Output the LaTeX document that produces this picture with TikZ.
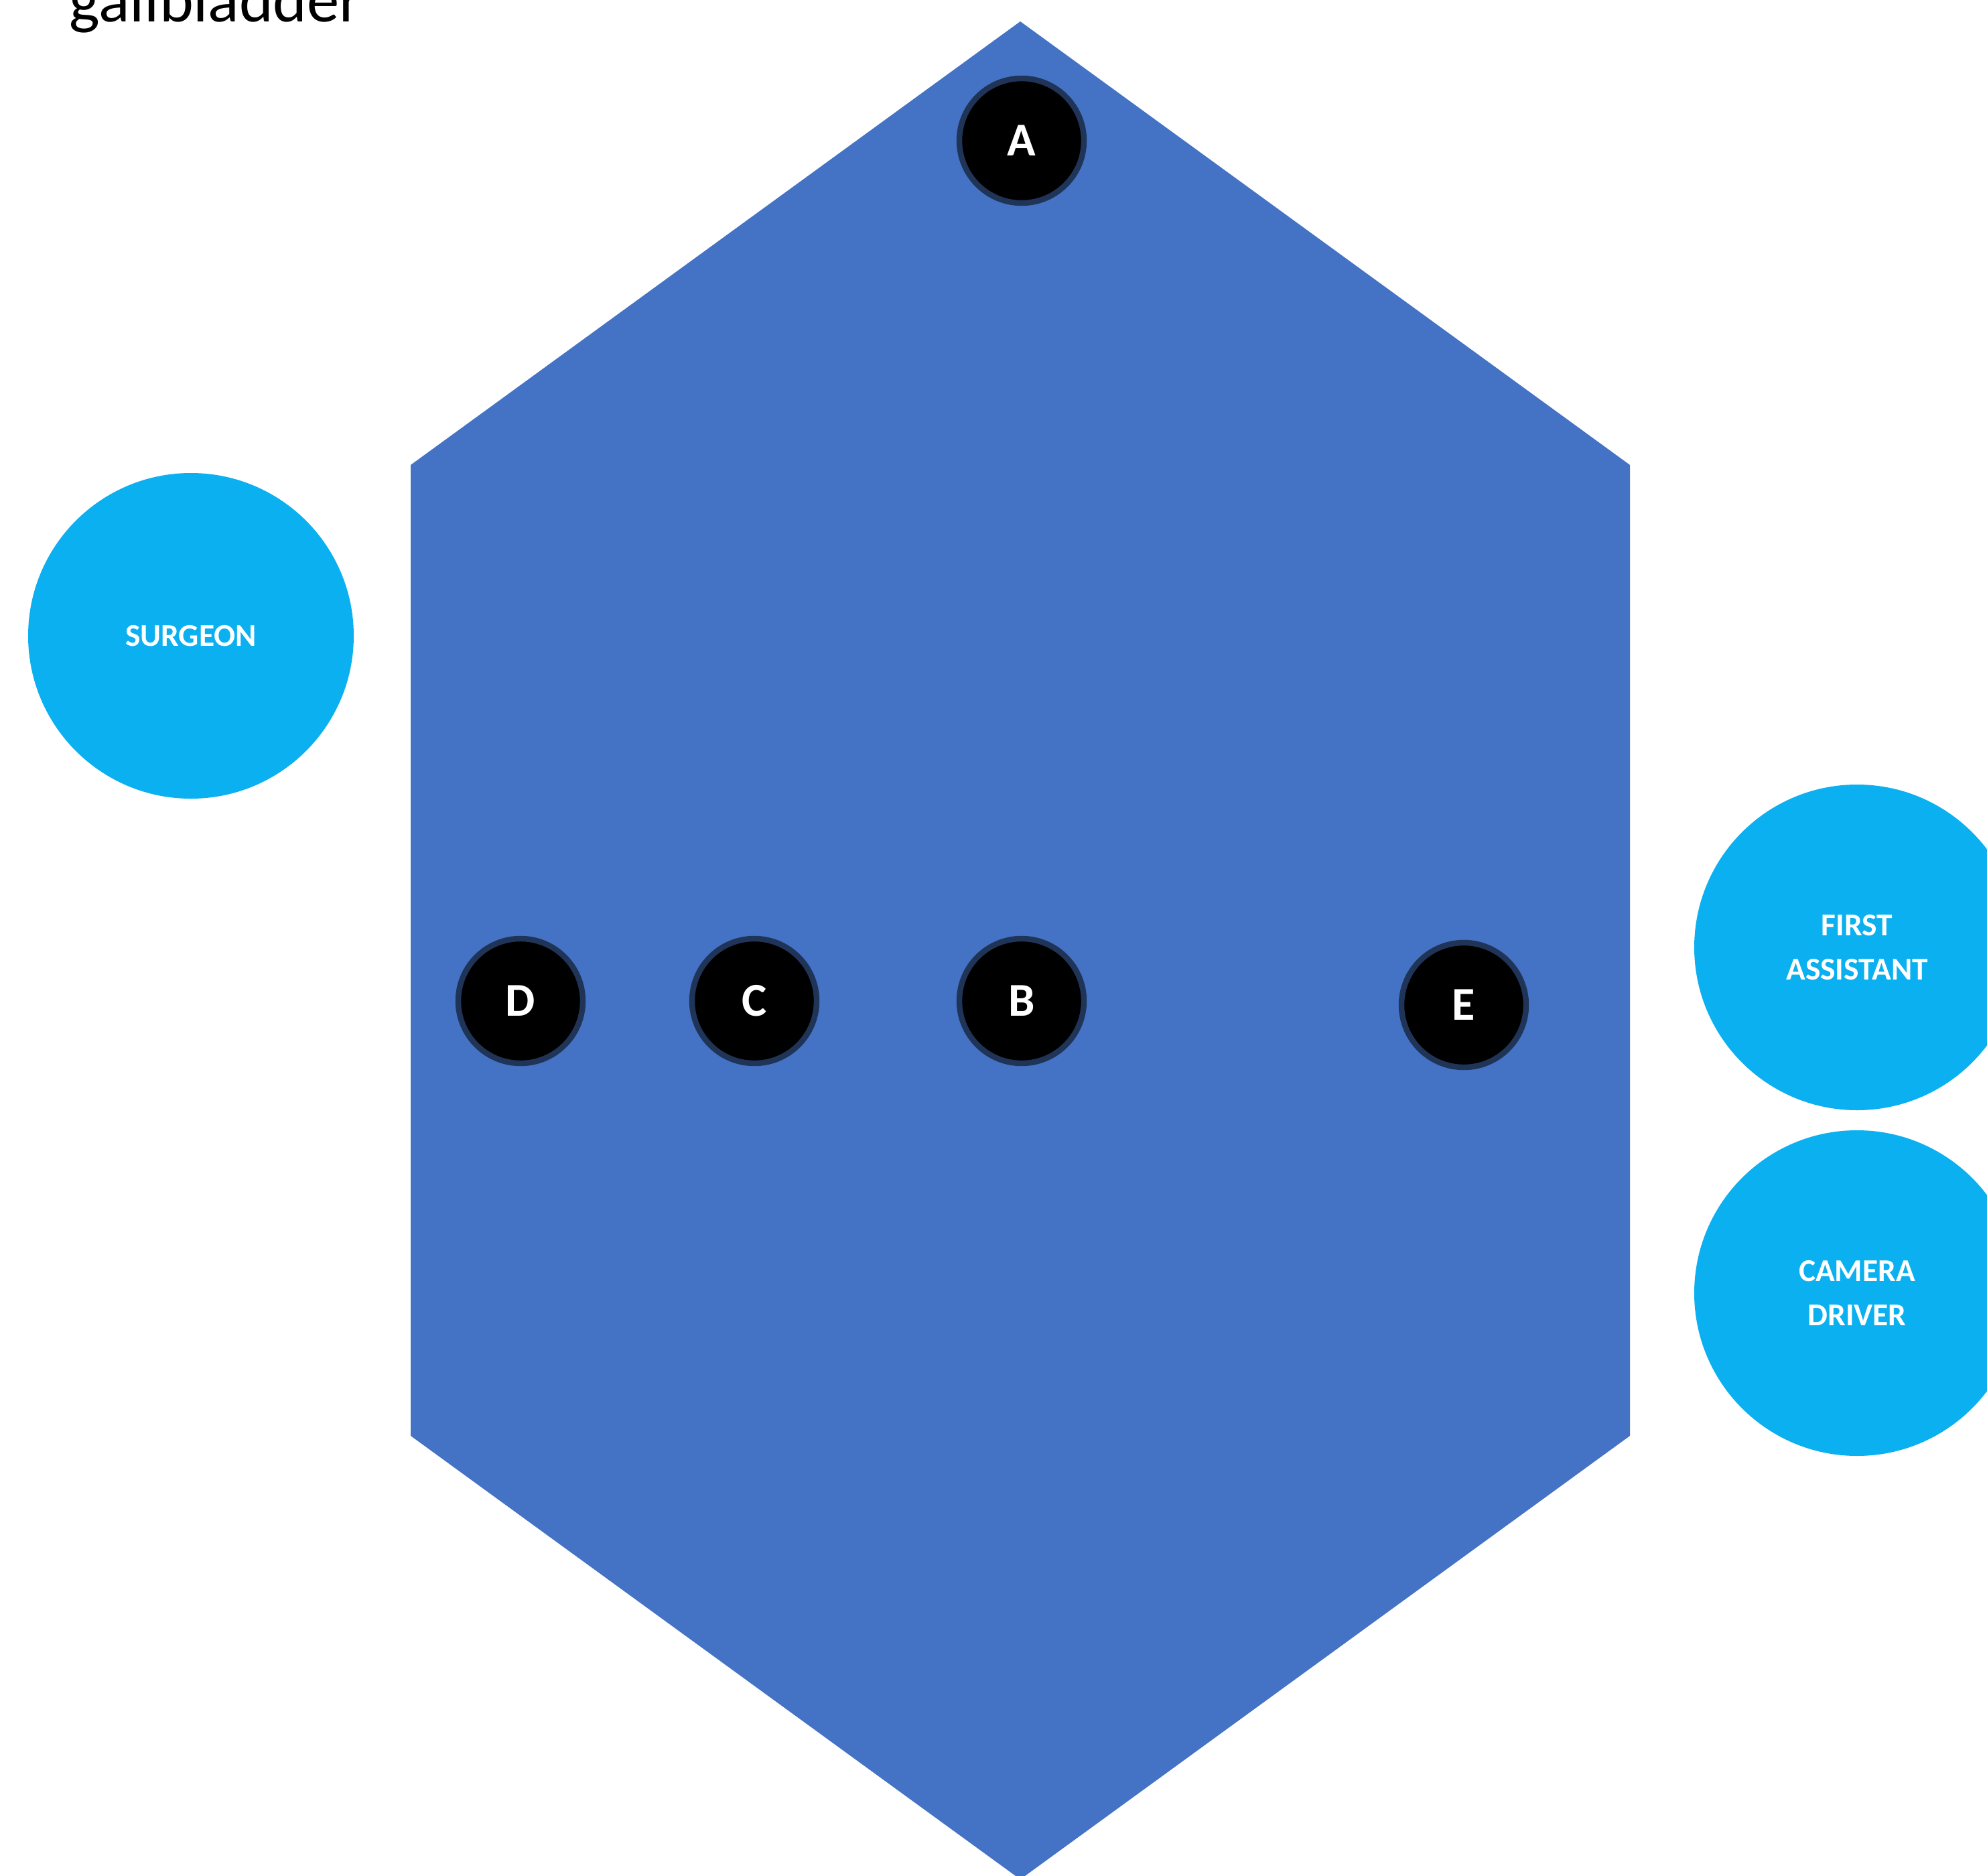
\documentclass[tikz,border=0pt]{standalone}
\usepackage{fontspec}
\setmainfont{Carlito}
\usepackage{xcolor}
\usepackage{tikz}

\definecolor{hexblue}{HTML}{4472C4}
\definecolor{teamcyan}{HTML}{0AB0F0}
\definecolor{portrim}{HTML}{1F3456}

\begin{document}
\begin{tikzpicture}[
    port/.style={draw=portrim, line width=2.4pt, fill=black, circle, minimum size=1.86cm, inner sep=0pt,
                 text=white, font=\fontsize{20}{24}\selectfont\bfseries},
    member/.style={fill=teamcyan, circle, minimum size=4.86cm, inner sep=0pt, align=center,
                   text=white, font=\fontsize{13.5}{19}\selectfont\bfseries}
  ]
        \useasboundingbox (0,0) rectangle (29.66,-28);
        \clip (0,0) rectangle (29.66,-28);

        % Titel (oben abgeschnitten)
        \node[anchor=base west, inner sep=0pt, font=\fontsize{27.5}{33}\selectfont] (title) at (1.03,-0.33) {gallbladder};

        % Patient / Abdomen
        \fill[hexblue] (15.23,-0.32) -- (24.33,-6.94) -- (24.33,-21.43) -- (15.23,-28.05)
                       -- (6.13,-21.43) -- (6.13,-6.94) -- cycle;

        % Trokar-Positionen
        \node[port] (A) at (15.25,-2.10) {A};
        \node[port] (D) at (7.77,-14.94) {D};
        \node[port] (C) at (11.26,-14.94) {C};
        \node[port] (B) at (15.25,-14.94) {B};
        \node[port] (E) at (21.85,-15.00) {E};

        % Team
        \node[member] (surgeon) at (2.85,-9.49) {SURGEON};
        \node[member] (assistant) at (27.72,-14.14) {FIRST\\ASSISTANT};
        \node[member] (camera) at (27.72,-19.30) {CAMERA\\DRIVER};
\end{tikzpicture}
\end{document}
